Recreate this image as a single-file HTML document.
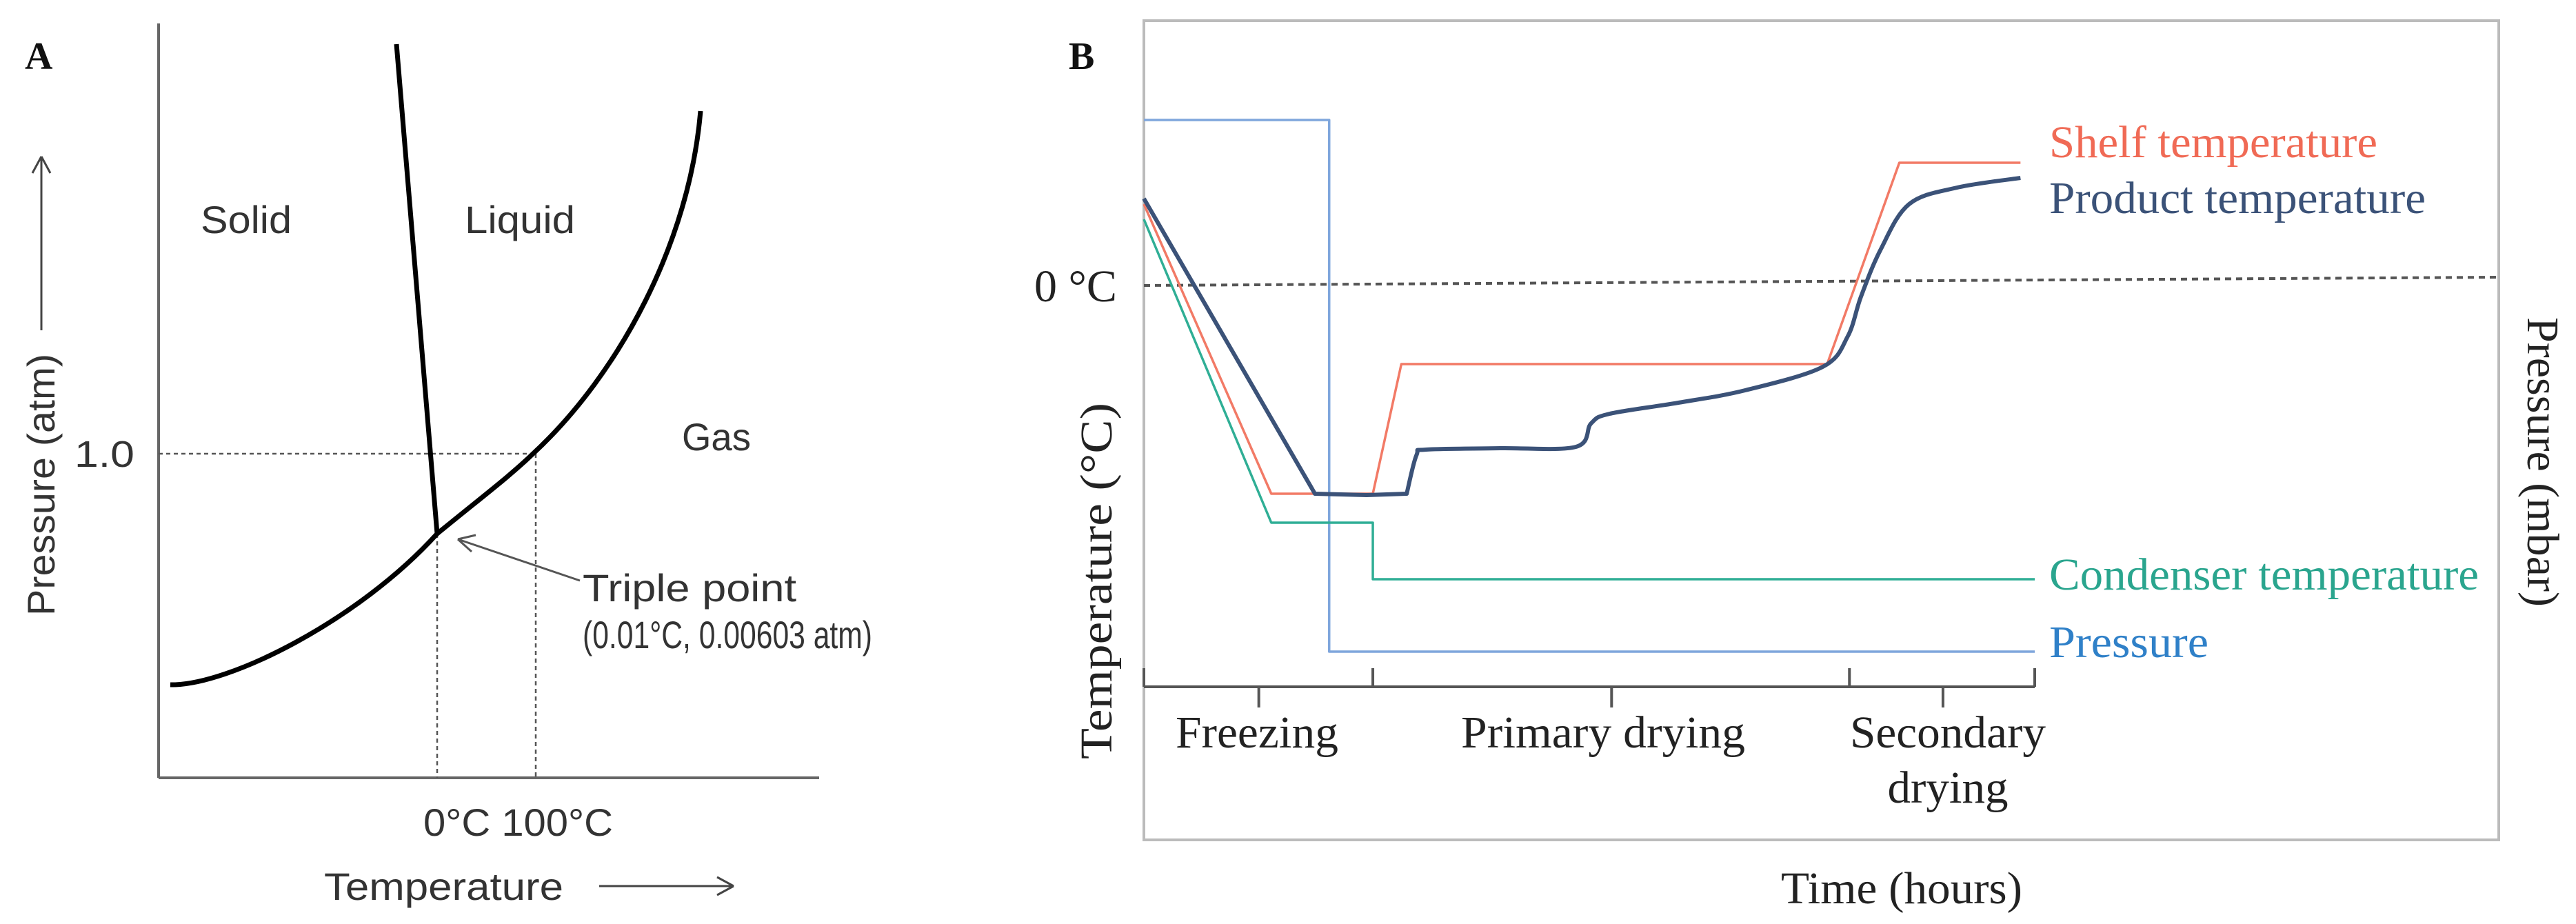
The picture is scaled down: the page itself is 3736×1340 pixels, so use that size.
<!DOCTYPE html>
<html><head><meta charset="utf-8"><style>
html,body{margin:0;padding:0;background:#fff}
svg{display:block}
.sa{font-family:"Liberation Sans",sans-serif;fill:#333}
.sr{font-family:"Liberation Serif",serif;fill:#222}
</style></head><body>
<svg id="fig" width="3736" height="1340" viewBox="0 0 3736 1340" xmlns="http://www.w3.org/2000/svg">
<!-- Panel A -->
<g>
<text x="36" y="100" font-family="Liberation Serif,serif" font-weight="bold" font-size="56" fill="#111">A</text>
<line x1="230" y1="34" x2="230" y2="1128" stroke="#666" stroke-width="4"/>
<line x1="230" y1="1128" x2="1188" y2="1128" stroke="#666" stroke-width="4"/>
<g stroke="#555" stroke-width="2.5" stroke-dasharray="6,5" fill="none">
<line x1="230" y1="658" x2="775" y2="658"/>
<line x1="634" y1="774" x2="634" y2="1128"/>
<line x1="777" y1="658" x2="777" y2="1128"/>
</g>
<path d="M575,64 L634,774" stroke="#000" stroke-width="7" fill="none"/>
<path d="M247,993 C330,995 520,900 634,774 C700,720 740,690 773,658 C900,540 1000,350 1016,161" stroke="#000" stroke-width="7" fill="none"/>
<path d="M841,842 L664,782 M664,782 L690,776 M664,782 L684,800" stroke="#555" stroke-width="3" fill="none"/>
<text class="sa" x="357" y="338" font-size="56" text-anchor="middle" textLength="132" lengthAdjust="spacingAndGlyphs">Solid</text>
<text class="sa" x="754" y="338" font-size="56" text-anchor="middle" textLength="160" lengthAdjust="spacingAndGlyphs">Liquid</text>
<text class="sa" x="1039" y="653" font-size="56" text-anchor="middle" textLength="100" lengthAdjust="spacingAndGlyphs">Gas</text>
<text class="sa" x="108" y="677" font-size="54" textLength="87" lengthAdjust="spacingAndGlyphs">1.0</text>
<text class="sa" x="845" y="872" font-size="56" textLength="310" lengthAdjust="spacingAndGlyphs">Triple point</text>
<text class="sa" x="845" y="940" font-size="56" textLength="420" lengthAdjust="spacingAndGlyphs">(0.01°C, 0.00603 atm)</text>
<text class="sa" x="614" y="1212" font-size="56" textLength="275" lengthAdjust="spacingAndGlyphs">0°C 100°C</text>
<text class="sa" x="470" y="1305" font-size="56" textLength="347" lengthAdjust="spacingAndGlyphs">Temperature</text>
<path d="M869,1285 L1064,1285 M1064,1285 L1040,1272 M1064,1285 L1040,1298" stroke="#444" stroke-width="3" fill="none"/>
<text class="sa" transform="translate(79,893) rotate(-90)" font-size="56" textLength="380" lengthAdjust="spacingAndGlyphs">Pressure (atm)</text>
<path d="M60,479 L60,227 M60,227 L47,251 M60,227 L73,251" stroke="#444" stroke-width="3" fill="none"/>
</g>
<!-- Panel B -->
<g id="pb">
<text x="1550" y="100" font-family="Liberation Serif,serif" font-weight="bold" font-size="56" fill="#111">B</text>
<rect x="1659" y="30" width="1965" height="1188" fill="none" stroke="#bbb" stroke-width="4"/>
<line x1="1659" y1="414" x2="3624" y2="402" stroke="#555" stroke-width="4" stroke-dasharray="9,7"/>
<text class="sr" x="1500" y="437" font-size="66">0 °C</text>
<text class="sr" transform="translate(1612,1101) rotate(-90)" font-size="66" textLength="517" lengthAdjust="spacingAndGlyphs">Temperature (°C)</text>
<text class="sr" transform="translate(3666,460) rotate(90)" font-size="66" textLength="420" lengthAdjust="spacingAndGlyphs">Pressure (mbar)</text>
<g id="series"></g>
<g id="taxis"></g>
<text class="sr" x="1823" y="1084" font-size="66" text-anchor="middle" textLength="236" lengthAdjust="spacingAndGlyphs">Freezing</text>
<text class="sr" x="2325" y="1084" font-size="66" text-anchor="middle" textLength="412" lengthAdjust="spacingAndGlyphs">Primary drying</text>
<text class="sr" x="2825" y="1084" font-size="66" text-anchor="middle" textLength="284" lengthAdjust="spacingAndGlyphs">Secondary</text>
<text class="sr" x="2825" y="1164" font-size="66" text-anchor="middle" textLength="175" lengthAdjust="spacingAndGlyphs">drying</text>
<text class="sr" x="2758" y="1310" font-size="66" text-anchor="middle" textLength="350" lengthAdjust="spacingAndGlyphs">Time (hours)</text>
<text class="sr" x="2972" y="228" font-size="66" style="fill:#f06a55" textLength="476" lengthAdjust="spacingAndGlyphs">Shelf temperature</text>
<text class="sr" x="2972" y="309" font-size="66" style="fill:#3b5278" textLength="546" lengthAdjust="spacingAndGlyphs">Product temperature</text>
<text class="sr" x="2972" y="855" font-size="66" style="fill:#2aa58e" textLength="623" lengthAdjust="spacingAndGlyphs">Condenser temperature</text>
<text class="sr" x="2972" y="953" font-size="66" style="fill:#2f80c8" textLength="231" lengthAdjust="spacingAndGlyphs">Pressure</text>
</g>
</svg>
<script>
// time in hours (0..10), temperature in °C, pressure relative (0..1)
const shelfT = [0, 1.43, 2.57, 2.89, 7.67, 8.48, 9.84];
const shelfV = [28, -77, -77, -30, -30, 43, 43];
const productT = [0, 1.92, 2.5, 2.95, 3.06, 3.17, 4.0, 4.85, 5.02, 5.23, 6.0, 6.75, 7.62, 7.9, 8.05, 8.27, 8.59, 9.13, 9.84];
const productV = [30, -77, -77.5, -77, -63, -61, -60.5, -60, -51.5, -48, -44, -39.5, -31, -20, -5.5, 11.5, 28, 34, 37.5];
const condT = [0, 1.43, 2.57, 2.57, 10];
const condV = [22.5, -87.5, -87.5, -108, -108];
const pressT = [0, 2.08, 2.08, 10];
const pressV = [1, 1, 0, 0];
const tickT = [0, 2.57, 7.92, 10];
const midTickT = [1.29, 5.25, 8.97];

const NS = 'http://www.w3.org/2000/svg';
const xS = t => 1659 + t * 129.2;
const yT = v => 408 - v * 4;
const yP = p => 945 - p * 771;
const g = document.getElementById('series');
function poly(ts, vs, ys, color, w, name, smoothFrom) {
  const pts = ts.map((t, i) => [xS(t), ys(vs[i])]);
  let d = 'M' + pts[0][0] + ',' + pts[0][1];
  for (let i = 0; i < pts.length - 1; i++) {
    const p1 = pts[i], p2 = pts[i + 1];
    if (smoothFrom >= 0 && i >= smoothFrom) {
      const p0 = pts[Math.max(smoothFrom, i - 1)], p3 = pts[Math.min(pts.length - 1, i + 2)];
      const c1 = [p1[0] + (p2[0] - p0[0]) / 6, p1[1] + (p2[1] - p0[1]) / 6];
      const c2 = [p2[0] - (p3[0] - p1[0]) / 6, p2[1] - (p3[1] - p1[1]) / 6];
      d += ' C' + c1 + ' ' + c2 + ' ' + p2;
    } else {
      d += ' L' + p2[0] + ',' + p2[1];
    }
  }
  const p = document.createElementNS(NS, 'path');
  p.setAttribute('d', d);
  p.setAttribute('fill', 'none');
  p.setAttribute('stroke', color);
  p.setAttribute('stroke-width', w);
  p.setAttribute('stroke-linejoin', 'round');
  
  
  g.appendChild(p);
}
poly(pressT, pressV, yP, '#7fa6dc', 3.5, 'pressure-line', -1);
poly(condT, condV, yT, '#2fae95', 3.5, 'condenser-temperature-line', -1);
poly(shelfT, shelfV, yT, '#f27a66', 3.5, 'shelf-temperature-line', -1);
poly(productT, productV, yT, '#3b5278', 6, 'product-temperature-line', 3);

const ax = document.getElementById('taxis');
const base = document.createElementNS(NS, 'line');
base.setAttribute('x1', xS(0)); base.setAttribute('x2', xS(10));
base.setAttribute('y1', 996); base.setAttribute('y2', 996);
base.setAttribute('stroke', '#555'); base.setAttribute('stroke-width', 4);


ax.appendChild(base);
tickT.forEach(t => {
  const l = document.createElementNS(NS, 'line');
  l.setAttribute('x1', xS(t)); l.setAttribute('x2', xS(t));
  l.setAttribute('y1', 969); l.setAttribute('y2', 996);
  l.setAttribute('stroke', '#555'); l.setAttribute('stroke-width', 4);
  
  
  ax.appendChild(l);
});
midTickT.forEach(t => {
  const l = document.createElementNS(NS, 'line');
  l.setAttribute('x1', xS(t)); l.setAttribute('x2', xS(t));
  l.setAttribute('y1', 996); l.setAttribute('y2', 1026);
  l.setAttribute('stroke', '#555'); l.setAttribute('stroke-width', 4);
  
  
  ax.appendChild(l);
});
</script>
</body></html>
